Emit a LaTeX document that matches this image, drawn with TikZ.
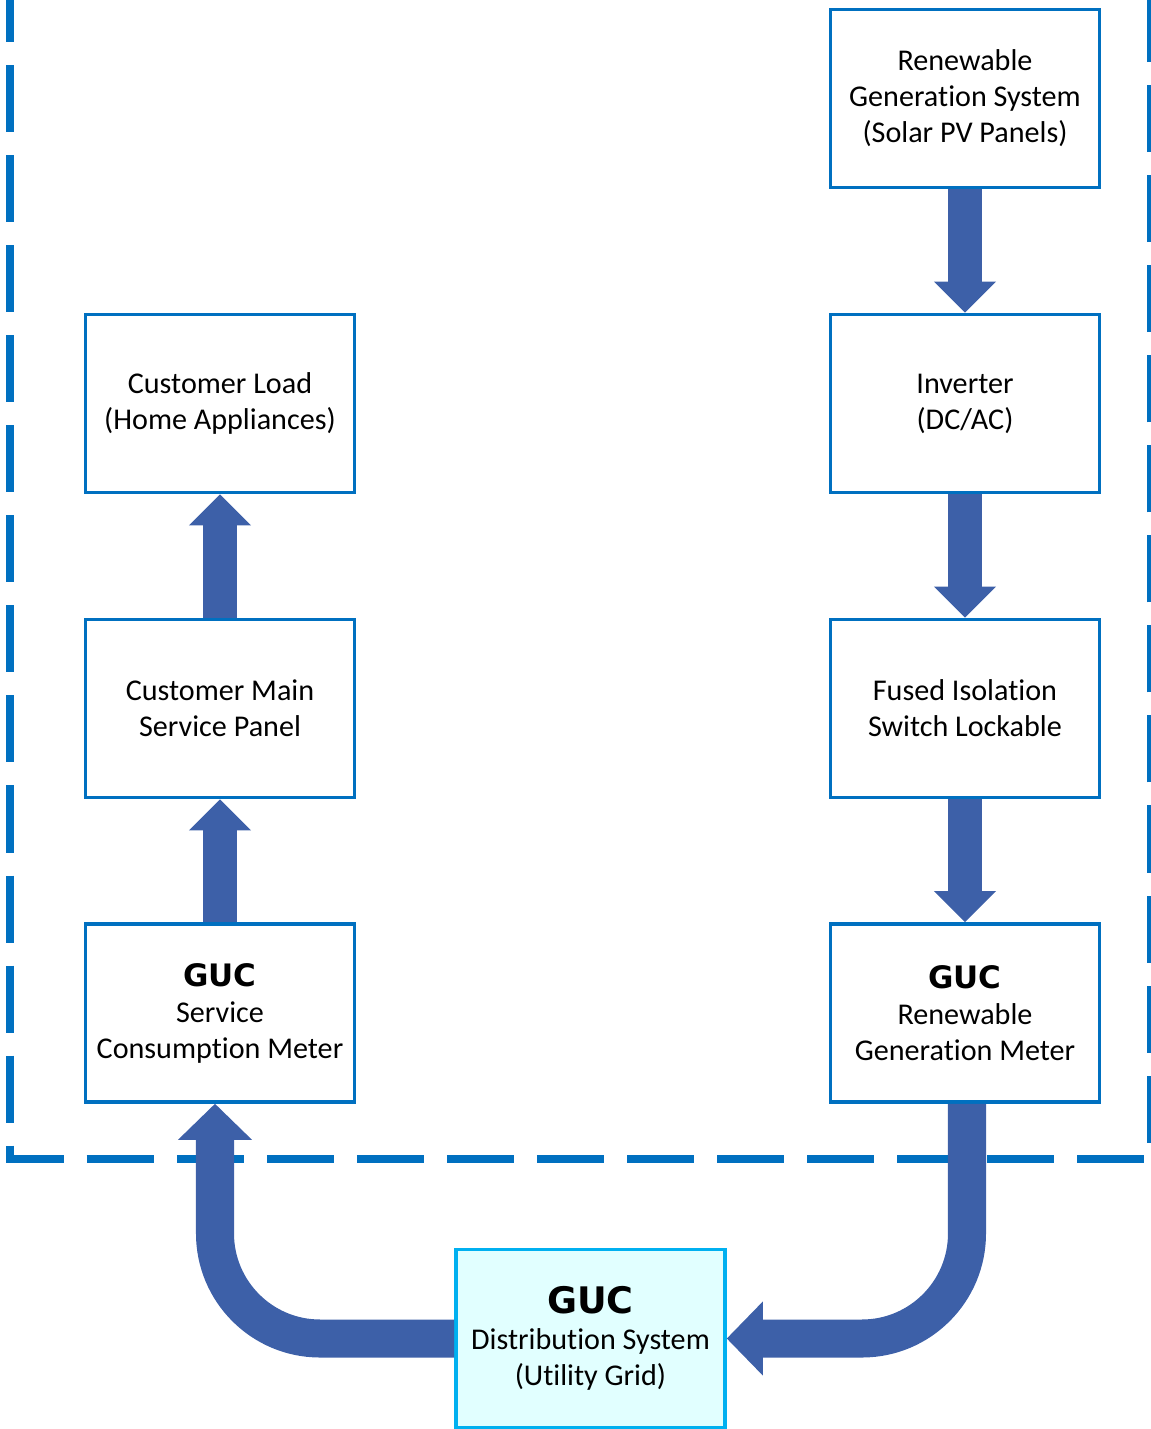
\documentclass[tikz,border=0pt]{standalone}
\usepackage{fontspec}
\setmainfont{Carlito}[Ligatures=NoCommon]
\newfontfamily\gucfont{DejaVu Sans}
\usetikzlibrary{arrows.meta}
\definecolor{boxblue}{RGB}{0,112,192}
\definecolor{gridcyan}{RGB}{0,176,240}
\definecolor{gridfill}{RGB}{225,255,255}
\definecolor{flowblue}{RGB}{61,96,168}
\tikzset{
    unit/.style={draw=boxblue, line width=0.035cm, minimum width=2.69cm, minimum height=1.78cm,
        inner sep=0pt, align=center, font=\fontsize{8.57}{10.24}\selectfont},
    flow/.style={draw=flowblue, line width=0.34cm, -{Triangle[width=0.62cm,length=0.31cm,line width=0pt]}},
    curveflow/.style={draw=flowblue, line width=0.38cm, rounded corners=1.05cm,
        -{Triangle[width=0.74cm,length=0.36cm,line width=0pt]}}
}
\newcommand{\guc}[1][8.8]{{\gucfont\bfseries\fontsize{#1}{#1}\selectfont GUC}}
\begin{document}
\begin{tikzpicture}[x=0.01cm,y=-0.01cm]
                \useasboundingbox (0,0) rectangle (1151,1429);
                \draw [boxblue, line width=0.08cm, dash pattern=on 0.67cm off 0.23cm, dash phase=0.67cm]
                    (10,-48) -- (10,1159) -- (1151,1159) -- (1151,-48);
                \node [unit] (solar) at (965,98.5) {Renewable\\Generation System\\(Solar PV Panels)};
                \node [unit] (inv) at (965,403.5) {Inverter\\(DC/AC)};
                \node [unit] (fuse) at (965,708.5) {Fused Isolation\\Switch Lockable};
                \node [unit] (gmeter) at (965,1013) {\guc\\Renewable\\Generation Meter};
                \node [unit] (load) at (220,403.5) {Customer Load\\(Home Appliances)};
                \node [unit] (panel) at (220,708.5) {Customer Main\\Service Panel};
                \node [unit] (cmeter) at (220,1013) {\guc\\Service\\Consumption Meter};
                \node [unit, draw=gridcyan, fill=gridfill] (grid) at (590.5,1338.5) {\guc[10.4]\\Distribution System\\(Utility Grid)};
                \draw [flow] (solar) -- (inv);
                \draw [flow] (inv) -- (fuse);
                \draw [flow] (fuse) -- (gmeter);
                \draw [flow] (cmeter) -- (panel);
                \draw [flow] (panel) -- (load);
                \draw [curveflow] ([xshift=0.02cm]gmeter.south) |- (grid.east);
                \draw [curveflow] (grid.west) -| ([xshift=-0.05cm]cmeter.south);
\end{tikzpicture}
\end{document}
